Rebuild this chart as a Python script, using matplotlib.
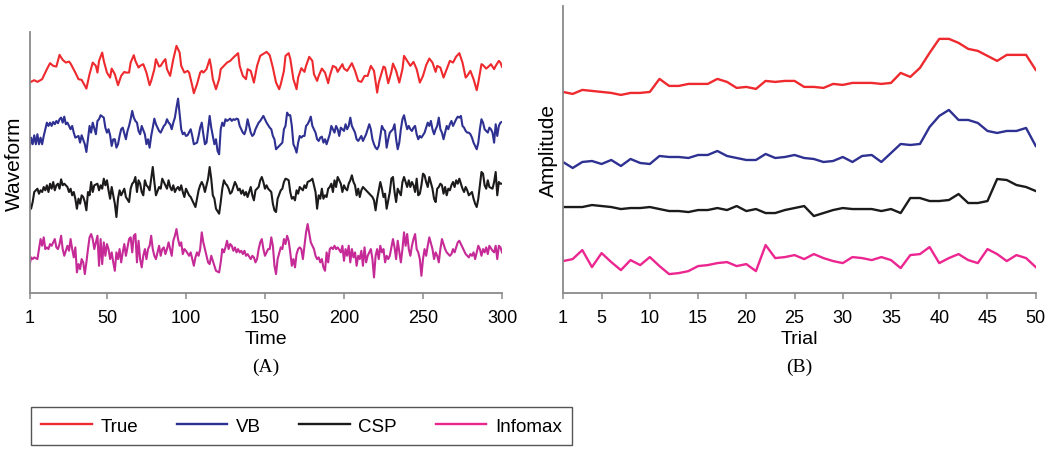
"""
Recovered waveforms (A) and per-trial amplitudes (B) for the four methods.
Values read off the published figure; units are arbitrary.
"""
import matplotlib
matplotlib.use("Agg")
import matplotlib.pyplot as plt
import numpy as np

SANS = ["Liberation Sans", "DejaVu Sans"]
SERIF = ["Liberation Serif", "DejaVu Serif"]
plt.rcParams["font.family"] = SANS

METHODS = ["True", "VB", "CSP", "Infomax"]
COLORS_A = ["#ee2a2e", "#2e3192", "#1c1a1a", "#c52a96"]
COLORS_B = ["#ee2a2e", "#2e3192", "#1c1a1a", "#ec2690"]

# ---- panel A: waveforms over time (sampled at the visible turning points) ----
time_true = [1, 4, 6, 9, 12, 14, 16, 18, 20, 22, 24, 26, 27, 30, 32, 34, 37, 39, 41, 43,
             44, 45, 47, 48, 50, 52, 53, 55, 57, 59, 61, 62, 64, 65, 67, 68, 70, 71, 73, 75,
             77, 78, 80, 81, 83, 84, 86, 87, 88, 90, 92, 94, 96, 97, 99, 101, 102, 104, 105, 107,
             109, 110, 111, 113, 115, 116, 117, 119, 121, 122, 124, 126, 128, 130, 133, 134, 136, 138, 139, 141,
             143, 145, 147, 151, 153, 155, 157, 159, 160, 162, 163, 165, 166, 168, 170, 171, 173, 175, 176, 178,
             180, 181, 183, 184, 186, 188, 190, 191, 193, 195, 196, 199, 200, 202, 204, 205, 207, 209, 211, 213,
             215, 217, 219, 221, 222, 225, 226, 228, 230, 231, 233, 235, 237, 238, 240, 242, 244, 246, 248, 250,
             252, 254, 256, 258, 259, 261, 263, 265, 267, 269, 271, 273, 275, 277, 278, 280, 282, 284, 285, 287,
             288, 290, 292, 293, 295, 296, 298, 299, 300]
wave_true = [-1.17, -0.93, -1.10, -0.83, 0.17, 0.77, 0.50, 0.43, 1.60, 1.10, 0.83, 0.93, 0.73, -0.17, -0.83, -0.90, -1.77, -0.33, 0.83, 0.50,
             -0.17, 1.00, 1.83, 1.00, -0.17, -0.67, 0.23, -0.33, -1.43, -0.50, -0.10, -0.17, -0.17, 0.83, 1.57, 1.00, 0.33, 0.50, 0.67, -0.17,
             -1.43, -1.00, 0.17, 1.17, 0.43, 0.50, 1.00, 1.17, 0.17, -0.50, 1.17, 2.50, 1.83, 0.50, -0.17, 0.00, -0.17, -1.50, -2.23, -1.33,
             -0.17, 0.00, -0.17, 0.17, 1.17, 0.33, -0.83, -1.83, -0.83, 0.17, 0.50, 0.83, 1.00, 1.33, 1.77, 0.50, -0.50, -0.83, 0.17, 0.00,
             -1.17, 0.50, 1.50, 1.90, 1.57, 0.33, -1.17, -1.83, -1.33, 0.00, 1.50, 1.77, 1.23, -0.83, -1.83, -0.67, 0.27, -0.10, 0.50, 1.40,
             1.00, -0.33, -1.00, -0.50, 0.23, -0.17, -1.23, -0.50, 0.50, 0.33, -0.10, 0.67, 0.23, 0.00, 0.50, 0.77, 0.00, -1.00, -1.10, -0.50,
             -0.50, 0.50, 0.00, -2.17, -1.17, 0.43, 0.33, -1.23, -0.10, 0.73, 0.00, -1.17, 0.17, 1.50, 1.00, 0.50, 0.90, 0.17, -1.17, -0.50,
             0.57, 1.23, 0.83, -0.10, 0.50, 0.33, -0.67, 0.17, 1.00, 0.83, 1.43, 1.77, 0.83, -0.67, -0.50, 0.00, -0.83, -1.93, -1.17, 0.67,
             0.57, 0.23, 0.50, 0.67, 0.17, 0.50, 1.00, 0.83, 0.40]

time_vb = [1, 2, 3, 4, 5, 6, 7, 8, 9, 10, 11, 12, 13, 14, 15, 16, 17, 18, 19, 20,
           21, 22, 23, 24, 25, 27, 28, 29, 30, 32, 33, 34, 36, 37, 38, 39, 40, 41, 43, 44,
           45, 46, 48, 49, 50, 51, 52, 53, 54, 55, 56, 57, 58, 59, 60, 62, 63, 64, 65, 66,
           67, 68, 69, 70, 71, 72, 74, 75, 76, 77, 78, 79, 80, 81, 83, 84, 85, 86, 87, 88,
           89, 90, 91, 92, 93, 94, 95, 96, 97, 98, 99, 100, 101, 103, 104, 105, 107, 108, 109, 110,
           111, 112, 113, 114, 115, 116, 117, 118, 119, 120, 121, 122, 123, 124, 125, 126, 128, 129, 130, 131,
           132, 133, 134, 135, 136, 137, 138, 139, 141, 142, 143, 144, 145, 146, 147, 149, 150, 151, 153, 154,
           155, 156, 157, 158, 159, 161, 162, 163, 164, 165, 166, 167, 168, 169, 170, 171, 172, 173, 174, 175,
           176, 177, 178, 179, 180, 181, 182, 183, 184, 185, 186, 187, 188, 189, 191, 192, 193, 194, 195, 196,
           197, 198, 199, 200, 201, 202, 203, 204, 205, 206, 207, 208, 209, 211, 212, 213, 214, 215, 216, 217,
           218, 219, 220, 221, 222, 223, 224, 225, 226, 227, 228, 229, 231, 232, 233, 234, 235, 236, 237, 238,
           239, 240, 241, 242, 243, 244, 245, 246, 247, 248, 249, 251, 252, 253, 254, 255, 256, 257, 258, 259,
           260, 261, 262, 263, 264, 265, 266, 267, 268, 269, 271, 272, 273, 274, 275, 276, 277, 278, 279, 280,
           281, 282, 283, 284, 285, 286, 287, 288, 289, 291, 292, 293, 294, 295, 296, 297, 298, 299, 300]
wave_vb = [-2.33, -1.17, -1.83, -0.93, -1.83, -0.83, -1.83, -1.17, -1.83, -1.00, -0.33, 0.33, 0.00, 0.33, 0.00, 0.40, 0.17, 0.50, 0.27, 0.67,
           0.83, 0.33, 0.93, 0.17, 0.33, -0.33, 0.00, -0.67, -1.17, -1.00, -1.67, -0.93, -1.83, -2.60, -1.33, 0.00, -0.67, 0.33, -0.83, 0.50,
           0.67, 1.07, 0.83, -0.17, -0.67, -0.33, -0.93, -2.00, -1.33, -1.33, -2.17, -1.83, -1.00, -0.33, -0.17, -1.33, -0.50, 0.00, 0.67, 1.50,
           0.83, 0.50, 0.33, -0.50, -0.83, 0.00, -0.83, -1.83, -1.33, -2.17, -1.00, -0.17, 0.73, 0.17, -0.50, -0.67, -0.33, 0.00, 0.17, 0.67,
           0.33, 0.17, -0.33, 0.33, 0.83, 1.83, 2.73, 1.17, -0.33, -0.83, -0.67, -1.00, -0.93, -0.33, -1.00, -1.83, -1.67, -1.00, -0.17, 0.33,
           -0.83, -1.83, -1.67, -0.33, 1.00, -0.17, -1.00, -1.83, -1.33, -2.50, -2.83, -0.33, 0.33, 0.00, 0.67, 0.50, 0.73, 0.50, 0.67, 0.60,
           0.73, 0.67, 0.00, -0.33, -0.67, -0.83, -0.33, 0.67, -0.67, -1.00, -0.83, -0.33, 0.00, 0.33, 0.50, 1.00, 0.67, 0.33, -0.17, -0.33,
           -1.00, -1.33, -2.33, -2.17, -2.00, -1.67, -0.33, 0.00, 1.33, 1.07, 1.07, 0.00, -1.83, -2.17, -2.67, -1.67, -1.00, -1.17, -1.00, -1.00,
           0.00, 0.17, 0.50, 0.93, 0.00, -0.33, -0.67, -1.33, -1.50, -1.17, -1.07, -1.67, -1.33, -1.83, -0.83, 0.00, -0.33, -0.67, 0.00, -0.33,
           -1.00, -0.17, -0.33, -0.50, 0.17, -0.33, 0.00, 0.83, 0.00, -0.33, -0.67, -1.33, -1.50, -1.00, -1.50, -1.17, -0.83, -0.33, 0.17, -0.33,
           -1.33, -1.83, -2.17, -2.33, -2.00, -1.00, 0.00, -0.33, -0.50, -2.17, -1.33, -0.67, -0.33, 0.17, -1.33, -2.33, -1.67, -0.33, 0.67, 1.07,
           0.33, -0.33, 0.00, -0.33, -0.50, -0.17, 0.00, -0.83, -1.33, -1.00, -1.17, -0.67, -0.17, 0.33, 0.00, 0.50, -0.33, -0.83, -0.33, 0.00,
           0.83, -0.33, -0.67, -1.33, -0.67, 0.00, -0.33, 0.17, 0.50, 0.00, 0.67, 0.93, 0.83, 1.00, 0.00, -0.17, -0.50, -0.67, -0.67, -0.83,
           -1.17, -1.67, -2.00, -2.33, -1.67, -0.33, 0.67, 0.33, -0.33, -0.67, -0.17, -0.33, -0.67, -1.67, 0.17, -1.00, 0.00, 0.33, 0.40]

# CSP and Infomax were read on the same time grid (steps not readable at this width left out)
unread_steps = [5, 24, 43, 63, 82, 101, 120, 140, 159, 178, 197, 216, 235, 255, 274, 293]
time_grid = [t for t in range(1, 301) if t not in unread_steps]
wave_csp = [-1.17, -1.67, -1.00, 0.00, 0.33, -0.17, 0.17, 0.00, 0.50, 0.17, 0.67, 0.00, 0.83, 0.33, 1.00, 0.17, 0.67, 0.83, 0.33, 1.27,
            0.67, 0.83, 0.50, 0.00, 0.33, -0.33, 0.00, -0.67, -1.67, -0.67, -1.17, -0.33, -0.50, -1.00, -1.83, 0.00, -0.33, 1.00, 0.00, 0.67,
            0.83, 0.17, 0.67, 0.33, 1.33, 0.67, 1.17, 0.17, -0.67, 0.50, -0.33, -1.17, -2.50, -0.67, 0.17, -0.33, 0.00, 0.33, -0.50, -1.00,
            0.33, 0.83, 1.00, 1.50, 0.00, 1.17, 0.83, 0.00, -0.33, 1.17, 0.67, 0.50, 0.17, 1.33, 2.50, 1.00, -0.33, 0.50, 0.33, 1.33,
            1.00, 0.67, 0.33, 1.17, 0.50, 0.17, 0.67, 0.00, 0.33, 0.50, 0.17, 0.67, 0.00, -0.50, 0.33, -0.33, -0.50, -0.83, -1.17, -1.50,
            -0.67, 0.17, 0.67, 1.00, 0.67, 0.00, 0.67, 1.33, 2.50, 1.33, -0.33, -0.67, -1.67, -2.17, -1.00, 0.33, 1.17, 0.83, 0.67, 0.33,
            -0.17, 0.00, 0.50, 1.00, 0.67, 0.17, 0.33, -0.17, 0.17, -0.33, 0.00, -0.50, 0.50, -0.33, -0.83, 0.17, 0.33, 0.50, 1.17, 1.50,
            1.00, 0.33, 0.67, 0.33,
            0.17, 0.00, -1.17, -1.83, -2.00, -0.67, 0.17, 0.33, 1.00, 1.33, 1.27, 1.17, 0.00, -0.67, -0.50, -0.83, 0.17, -0.17, 0.50, 0.33,
            0.17, 0.67, 0.40, 1.00, 1.17, 1.33, 0.67, 0.00, -1.67, -0.33, -0.67, 0.33, -0.67, -0.33, -0.50, 0.33, 0.50, 0.83, 0.00, 1.17,
            0.50, 1.50, 0.83, 0.00, 0.67, 0.33, 0.17, 0.83, 1.17, 1.67, 1.00, 0.67, -0.33, 0.33, -0.50, 0.17, 0.50, 0.33, 0.17, 0.00,
            -0.33, -0.50, -0.83, -1.83, -0.67, 0.17, 1.00, 0.33, -0.50, -0.17, -1.67, -0.83, 0.00, 1.33, 1.50, 0.00, -1.00, 0.33, -0.33, 1.00,
            1.50, 1.00, 0.50, 1.17, 0.50, 1.00, 0.67, 0.00, 1.33, -0.33, -0.17, 0.67, 1.83, 1.67, 1.00, 0.50, 1.50, 0.33, -0.67, -1.00,
            0.33, 0.50, 0.83, 0.67, -0.17, 0.50, -0.33, 0.33, 0.17, 0.67, 1.00, 0.50, 1.17, 0.83, 1.33, 0.33, 0.00, 0.50, 0.17, -0.33,
            -0.17, 0.00, -0.67, -1.17, -1.50, -0.67, 0.67, 2.00, 1.83, 0.67, 0.33, 1.17, 0.50, 0.33, 1.00, 2.00, -0.33, 1.00, 0.83, 0.83]
wave_infomax = [-1.67, -0.83, -1.00, -0.83, -1.00, 0.00, 1.00, 0.33, 1.17, 0.00, 0.17, 0.00, 0.50, 0.33, 0.67, 1.00, 0.17, 0.00, 0.50, 1.33,
                0.00, -0.67, 0.33, -0.17, 1.00, 0.00, -0.83, 0.17, -2.33, -1.50, -2.00, -1.00, -1.33, -2.50, -1.33, 0.00, 1.17, 1.50, 1.00, 0.00,
                1.33, -1.67, 1.00, -1.50, 0.67, -0.67, 0.50, 0.00, -1.00, -0.33, -1.33, -2.17, -0.33, -1.00, 0.00, -1.33, -0.33, 0.50, -0.67, 1.00,
                1.17, -0.33, 1.33, 1.50, -1.33, 0.83, -1.00, -1.83, -0.67, 0.00, -1.00, 0.00, 0.33, 1.33, 0.00, -0.67, -1.00, 0.33, -0.67, 0.00,
                0.17, -0.50, 0.00, 0.67, 0.00, -0.67, 0.83, 1.33, 2.00, 1.00, 0.33, 0.67, -0.50, 0.00, -0.17, -0.67, -0.33, -1.00, -1.67, -0.83,
                -0.33, -0.67, 0.00, 1.67, 0.67, 0.00, -0.67, -1.33, -1.50, -0.67, -1.17, -1.67, -2.17, -2.33, -1.33, 0.00, -0.33, 0.17, 0.83, 0.00,
                0.50, 0.33, -0.17, 0.17, -0.33, 0.00, -0.33, -0.17, -0.50, -0.17, -0.67, -0.50, -1.00, -0.67, -0.83, -1.33, -1.00, 0.00, 0.67, 1.00,
                0.00, -0.67, -0.33, 0.00,
                0.00, 1.17, 0.33, -1.67, -2.50, -1.00, 0.17, 0.00, 1.00, 0.50, 1.33, 0.83, -0.33, -1.67, -1.00, -1.83, -0.50, 0.00, 0.17, 0.00,
                -1.00, 0.33, 1.67, 2.50, 0.67, 0.33, 0.00, -0.67, -1.00, -0.83, -1.33, -1.00, -1.83, -2.17, -0.33, -1.33, 0.00, 0.17, 0.00, 0.33,
                0.00, 0.17, -0.33, 0.33, -1.17, 0.00, -0.67, 0.33, -1.33, 0.00, -0.83, -0.33, -1.67, -0.67, -1.00, -0.17, -1.67, 0.17, -1.33, -0.67,
                0.00, -1.00, -2.83, -0.67, 0.00, -1.00, 0.33, -0.33, 0.00, -1.33, -0.67, -1.00, -0.67, 0.17, 1.00, 0.17, -1.00, 0.83, -1.33, 0.00,
                1.67, 0.33, 1.50, 0.00, -0.67, 0.33, 1.00, 1.50, 0.00, -0.33, -1.00, -2.67, -1.00, 0.00, -0.67, 0.33, 1.17, 0.00, -1.00, -0.33,
                -0.67, -1.33, 0.00, 1.00, 0.50, 0.00, -0.33, -0.50, -0.67, -0.50, 0.00, -0.33, 0.17, 0.67, 0.83, 0.17, -0.17, -0.50, -0.67, -0.83,
                -0.50, -0.67, -0.33, -1.00, -0.33, 0.33, 0.00, -0.67, 0.00, -0.33, 0.17, -0.50, 0.33, -0.17, -0.33, 0.33, -1.00, 0.33, 0.17, -0.33]

# ---- panel B: amplitude per trial ----
trials = list(range(1, 51))
amp_true = [2.01, 1.99, 2.03, 2.02, 2.01, 2.00, 1.98, 2.00, 2.00, 2.01, 2.14, 2.07, 2.07, 2.09, 2.09, 2.09, 2.14, 2.11, 2.05, 2.06,
            2.04, 2.12, 2.11, 2.12, 2.12, 2.06, 2.06, 2.05, 2.09, 2.08, 2.10, 2.10, 2.10, 2.09, 2.10, 2.20, 2.16, 2.25, 2.40, 2.54,
            2.54, 2.50, 2.44, 2.42, 2.37, 2.32, 2.38, 2.38, 2.38, 2.23]
amp_vb = [1.31, 1.25, 1.31, 1.32, 1.29, 1.33, 1.27, 1.34, 1.30, 1.29, 1.37, 1.36, 1.36, 1.35, 1.38, 1.38, 1.42, 1.37, 1.35, 1.33,
          1.33, 1.39, 1.35, 1.36, 1.38, 1.35, 1.34, 1.31, 1.32, 1.36, 1.31, 1.37, 1.38, 1.31, 1.40, 1.49, 1.48, 1.49, 1.66, 1.77,
          1.83, 1.73, 1.73, 1.70, 1.62, 1.60, 1.62, 1.62, 1.65, 1.47]
amp_csp = [0.86, 0.86, 0.86, 0.88, 0.87, 0.86, 0.84, 0.85, 0.85, 0.86, 0.84, 0.82, 0.82, 0.81, 0.83, 0.83, 0.85, 0.83, 0.87, 0.82,
           0.84, 0.80, 0.80, 0.83, 0.85, 0.87, 0.77, 0.80, 0.83, 0.85, 0.84, 0.84, 0.84, 0.82, 0.84, 0.80, 0.95, 0.95, 0.92, 0.92,
           0.93, 0.99, 0.90, 0.90, 0.92, 1.14, 1.13, 1.08, 1.06, 1.02]
amp_infomax = [0.32, 0.34, 0.43, 0.26, 0.40, 0.31, 0.23, 0.33, 0.28, 0.36, 0.27, 0.19, 0.20, 0.22, 0.27, 0.28, 0.30, 0.31, 0.27, 0.29,
               0.22, 0.48, 0.35, 0.36, 0.38, 0.34, 0.39, 0.35, 0.32, 0.30, 0.36, 0.35, 0.33, 0.36, 0.33, 0.25, 0.38, 0.39, 0.46, 0.30,
               0.35, 0.39, 0.33, 0.30, 0.44, 0.39, 0.32, 0.38, 0.35, 0.26]

# vertical stacking of the waveforms in panel A
STACK = [22.2, 16.7, 10.1, 4.4]

AXIS_GREY = "#8a8a8a"
TICK_FS = 13
LABEL_FS = 14
YLABEL_FS = 15


def style_axis(ax):
    for side in ("top", "right"):
        ax.spines[side].set_visible(False)
    for side in ("left", "bottom"):
        ax.spines[side].set_color(AXIS_GREY)
        ax.spines[side].set_linewidth(1.3)
    ax.set_yticks([])
    ax.tick_params(axis="x", direction="out", length=4.5, width=1.1,
                   color=AXIS_GREY, pad=7, labelsize=TICK_FS)


fig = plt.figure(figsize=(10.5, 4.56), dpi=100)
axA = fig.add_axes([0.0281, 0.355, 0.4500, 0.573])
axB = fig.add_axes([0.5362, 0.355, 0.4502, 0.630])

waves = [(time_true, wave_true), (time_vb, wave_vb),
         (time_grid, wave_csp), (time_grid, wave_infomax)]
for (t, w), off, c in zip(waves, STACK, COLORS_A):
    axA.plot(t, np.array(w) + off, color=c, lw=1.5, solid_joinstyle="round")
axA.set_xlim(1, 300)
axA.set_ylim(0, 26.1)
axA.set_xticks([1, 50, 100, 150, 200, 250, 300])
axA.set_xlabel("Time", fontsize=LABEL_FS, labelpad=3)
axA.set_ylabel("Waveform", fontsize=YLABEL_FS, labelpad=4)
style_axis(axA)

handles = []
for amp, name, c in zip([amp_true, amp_vb, amp_csp, amp_infomax], METHODS, COLORS_B):
    h, = axB.plot(trials, amp, color=c, lw=1.7, label=name)
    handles.append(h)
axB.set_xlim(1, 50)
axB.set_ylim(0, 2.87)
axB.set_xticks([1, 5, 10, 15, 20, 25, 30, 35, 40, 45, 50])
axB.set_xlabel("Trial", fontsize=LABEL_FS, labelpad=3)
axB.set_ylabel("Amplitude", fontsize=YLABEL_FS, labelpad=4)
style_axis(axB)

fig.text(0.2535, 1 - 367 / 456, "(A)", family=SERIF, fontsize=TICK_FS + 1,
         ha="center", va="center")
fig.text(0.7613, 1 - 367 / 456, "(B)", family=SERIF, fontsize=TICK_FS + 1,
         ha="center", va="center")

leg = fig.legend(handles=handles, labels=METHODS, ncol=4, mode="expand",
                 loc="lower left", bbox_to_anchor=(31 / 1050, 1 - 446 / 456, 541 / 1050, 44 / 456),
                 fontsize=TICK_FS + 0.5, handlelength=2.7, handletextpad=0.45,
                 borderaxespad=0, borderpad=0.55, fancybox=False, framealpha=1)
leg.get_frame().set_edgecolor("#555555")
leg.get_frame().set_linewidth(1.0)

fig.savefig("out.png", dpi=100)
